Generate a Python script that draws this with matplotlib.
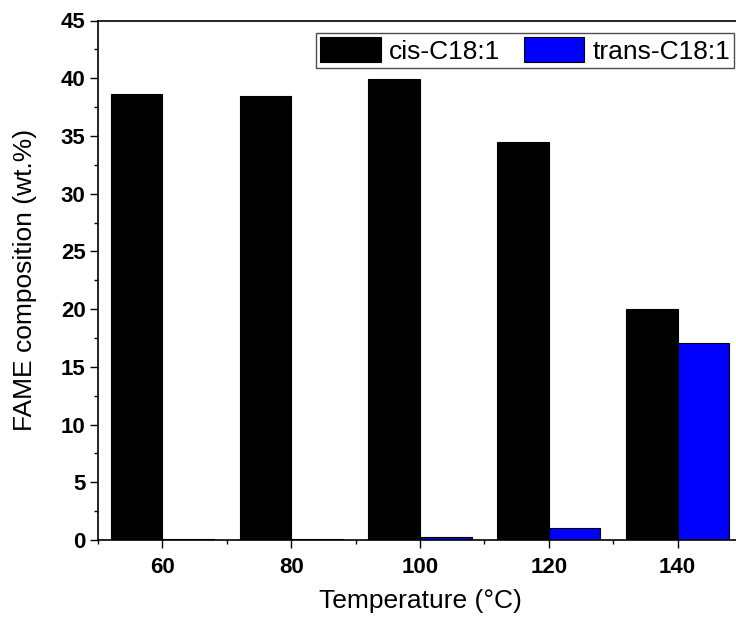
import numpy as np
import matplotlib
matplotlib.use("Agg")
import matplotlib.pyplot as plt
from matplotlib.ticker import MultipleLocator

plt.rcParams['font.family'] = ['Liberation Sans', 'DejaVu Sans']

# FAME composition vs. reaction temperature
temperatures = [60, 80, 100, 120, 140]
cis_c18 = [38.6, 38.5, 39.9, 34.5, 20.0]
trans_c18 = [0.05, 0.12, 0.22, 1.05, 17.1]
series_labels = ['cis-C18:1', 'trans-C18:1']

bar_w = 8

fig = plt.figure(figsize=(7.36, 6.19), dpi=100)
ax = fig.add_axes([98 / 736, 1 - 540 / 619, 644 / 736, 519.5 / 619])

x = np.array(temperatures)
ax.bar(x - bar_w / 2, cis_c18, width=bar_w, color='black', edgecolor='black',
       linewidth=0.8, label=series_labels[0])
ax.bar(x + bar_w / 2, trans_c18, width=bar_w, color='#0000ff', edgecolor='black',
       linewidth=0.8, label=series_labels[1])

ax.set_xlim(50, 150)
ax.set_ylim(0, 45)
ax.xaxis.set_major_locator(MultipleLocator(20))
ax.xaxis.set_minor_locator(MultipleLocator(10))
ax.yaxis.set_major_locator(MultipleLocator(5))
ax.yaxis.set_minor_locator(MultipleLocator(2.5))

ax.tick_params(which='major', direction='out', length=6, width=1, pad=3,
               labelsize=16)
ax.tick_params(which='minor', direction='out', length=3, width=1)
ax.tick_params(axis='x', which='major', pad=6)
for lbl in ax.get_xticklabels() + ax.get_yticklabels():
    lbl.set_fontweight('bold')

for side in ['left', 'bottom', 'top', 'right']:
    ax.spines[side].set_linewidth(1.2)

ax.set_xlabel('Temperature (°C)', fontsize=19)
ax.set_ylabel('FAME composition (wt.%)', fontsize=19)
ax.xaxis.set_label_coords(0.5, -0.095)
ax.yaxis.set_label_coords(-0.094, 0.5)

leg = ax.legend(loc='upper right', ncol=2, fontsize=19,
                bbox_to_anchor=(734 / 736, 1 - 33 / 619),
                bbox_transform=fig.transFigure, borderaxespad=0,
                handlelength=2.3, handleheight=1.1, handletextpad=0.3,
                columnspacing=0.9, borderpad=0.15, fancybox=False,
                framealpha=1, edgecolor='0.3')
leg.get_frame().set_linewidth(1.0)

fig.savefig('out.png', dpi=100)
